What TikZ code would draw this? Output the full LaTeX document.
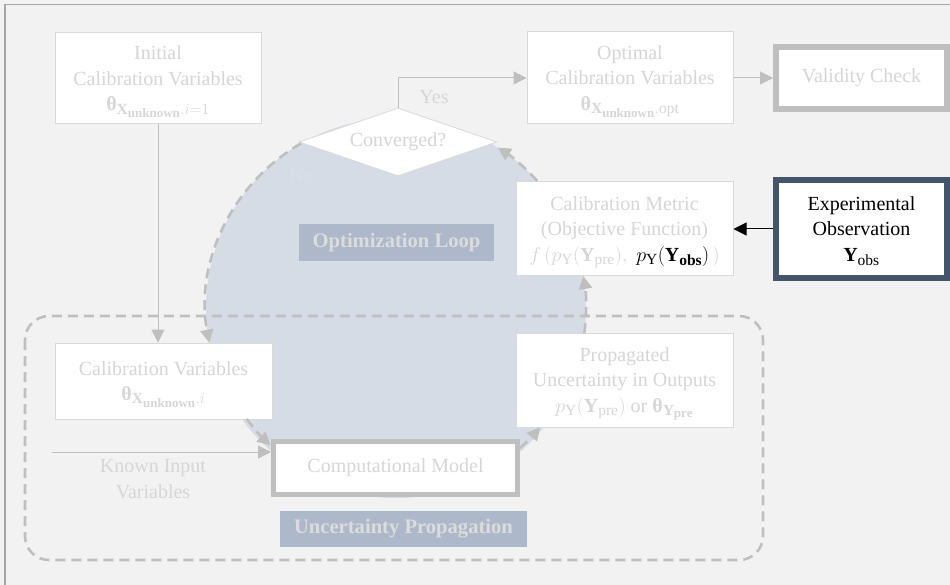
\RequirePackage{fix-cm}
\documentclass[tikz,border=0pt]{standalone}
\usepackage{amsmath}
\usepackage{fontspec}
\setmainfont{Liberation Serif}
\usetikzlibrary{arrows.meta,shapes.geometric,calc}
\DeclareMathSizes{20}{20}{15.5}{13}

\definecolor{bgc}{HTML}{F2F2F2}
\definecolor{framec}{HTML}{A6A6A6}
\definecolor{loopfill}{HTML}{D6DCE5}
\definecolor{dashc}{HTML}{BFBFBF}
\definecolor{boxline}{HTML}{D9D9D9}
\definecolor{faint}{HTML}{D6D6D6}
\definecolor{tagfill}{HTML}{ADB9CA}
\definecolor{tagtext}{HTML}{DCDCDC}
\definecolor{navy}{HTML}{44546A}
\definecolor{nofaint}{HTML}{DADFE7}

% bold upright theta taken from the text font
\newcommand{\thb}{\text{\bfseries θ}}

\tikzset{
  tip/.style={-{Triangle[length=13pt,width=13pt]}},
  conn/.style={draw=dashc, line width=1pt, tip},
  loopline/.style={draw=dashc, line width=2.6pt, dash pattern=on 10pt off 6pt,
    -{Triangle[length=13pt,width=13pt]}},
  thinbox/.style={draw=boxline, line width=1pt, fill=white, text=faint,
    align=center, inner sep=0pt},
  greybox/.style={draw=dashc, line width=5pt, fill=white, text=faint,
    align=center, inner sep=0pt},
  darkbox/.style={draw=navy, line width=6pt, fill=white, text=black,
    align=center, inner sep=0pt},
  tag/.style={fill=tagfill, text=tagtext, font=\fontsize{20.6}{24}\selectfont\bfseries,
    inner sep=0pt},
  plain/.style={text=faint, align=center, inner sep=0pt},
}

\begin{document}
\begin{tikzpicture}[x=1pt, y=-1pt, font=\fontsize{20}{25.5}\selectfont]
\useasboundingbox (0,0) rectangle (950,585);
\fill[bgc] (0,0) rectangle (950,585);
\draw[framec, line width=1.5pt] (5,585) -- (5,4.5) -- (950,4.5);

% optimisation loop disc
\coordinate (O) at (396,308);
\fill[loopfill] (O) circle[radius=190];

% uncertainty propagation frame
\draw[dashc, line width=2.6pt, dash pattern=on 10pt off 6pt, rounded corners=24pt]
  (25,316) rectangle (763,560);

% boxes
\node[thinbox, minimum width=206pt, minimum height=91pt] (init) at (158,78.5)
  {Initial\\Calibration Variables\\$\smash[b]{\thb_{\mathbf{X}_{\mathbf{unknown}},i=1}}$};
\node[thinbox, minimum width=206pt, minimum height=92pt] (opt) at (630,78)
  {Optimal\\Calibration Variables\\$\smash[b]{\thb_{\mathbf{X}_{\mathbf{unknown}},\mathrm{opt}}}$};
\node[greybox, line width=6pt, minimum width=171pt, minimum height=62pt] (val) at (861.5,78)
  {Validity Check};
\node[draw=boxline, line width=0.8pt, fill=white, shape=diamond, aspect=2.9,
  minimum width=198pt, minimum height=68pt, inner sep=0pt, text=faint] (dia) at (398,142)
  {\raisebox{-4pt}{Converged?}};
\node[thinbox, minimum width=217pt, minimum height=94pt] (met) at (624.5,229)
  {Calibration Metric\\(Objective Function)\\
   $\smash[b]{f\,(p_{\mathrm{Y}}(\mathbf{Y}_{\mathrm{pre}}),\;
   {\color{black}p_{\mathrm{Y}}(\mathbf{Y}_{\mathbf{obs}})}\,)}$};
\node[darkbox, minimum width=171pt, minimum height=98pt] (exp) at (861.5,229)
  {Experimental\\Observation\\$\smash[b]{\mathbf{Y}_{\mathrm{obs}}}$};
\node[thinbox, minimum width=217pt, minimum height=76pt] (cv) at (163.5,381)
  {Calibration Variables\\$\smash[b]{\thb_{\mathbf{X}_{\mathbf{unknown}},i}}$};
\node[thinbox, minimum width=217pt, minimum height=94pt] (prop) at (624.5,380)
  {Propagated\\Uncertainty in Outputs\\
   $\smash[b]{p_{\mathrm{Y}}(\mathbf{Y}_{\mathrm{pre}})}$ or $\smash[b]{\thb_{\mathbf{Y}_{\mathbf{pre}}}}$};
\node[greybox, minimum width=244pt, minimum height=53pt] (cm) at (395.5,468)
  {Computational Model};

% tags
\node[tag, minimum width=195pt, minimum height=37pt] (tagopt) at (396.5,242.5) {Optimization Loop};
\node[tag, minimum width=247pt, minimum height=36pt] (tagunc) at (403.5,529) {Uncertainty Propagation};

% plain labels
\node[plain] (yes) at (434,97) {Yes};
\node[plain, text=nofaint] (no) at (302,175) {No};
\node[plain] (known) at (153,479) {Known Input\\Variables};

% solid connectors
\draw[conn] (init.south) -- (init.south |- cv.north);
\coordinate (kin) at (52,452);
\draw[conn] (kin) -- (kin -| cm.west);
\draw[conn] (dia.north) |- (opt.west);
\draw[conn] (opt.east) -- (val.west);
\draw[draw=black, line width=1pt, -{Triangle[length=13pt,width=13pt]}] (exp.west) -- (met.east);

% loop connectors along the disc
\draw[loopline] ($(O)+(240:190)$) arc[start angle=240, end angle=169.5, radius=190];
\draw[loopline] ($(O)+(143.4:186)$) arc[start angle=143.4, end angle=132.4, radius=186];
\draw[loopline] ($(O)+(48.5:187)$) arc[start angle=48.5, end angle=39.6, radius=187];
\draw[loopline] ($(O)+(7.6:190)$) arc[start angle=7.6, end angle=-9.7, radius=190];
\draw[loopline] ($(O)+(-42:190)$) arc[start angle=-42, end angle=-57.6, radius=190];
\end{tikzpicture}
\end{document}
